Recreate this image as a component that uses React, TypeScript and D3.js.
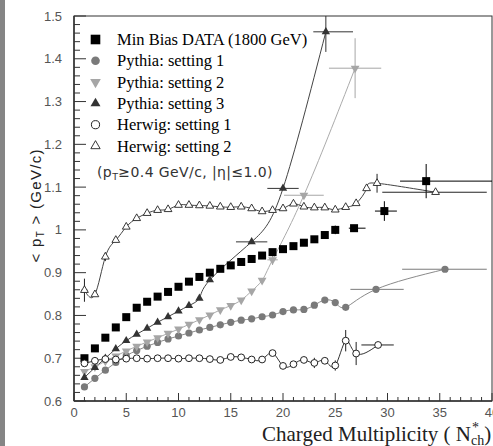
import React from 'react';
import * as d3 from 'd3';

// ---------- data ----------
const mbX = [1,2,3,4,5,6,7,8,9,10,11,12,13,14,15,16,17,18,19,20,21,22,23,24,25,26.8,29.7,33.7];
const mbY = [0.700,0.723,0.748,0.772,0.796,0.818,0.832,0.844,0.855,0.867,0.879,0.890,0.900,0.909,0.917,0.925,0.932,0.940,0.948,0.955,0.962,0.970,0.978,0.988,1.000,1.004,1.044,1.114];
// [x, y, dxMinus, dxPlus, dy]
const mbErr: number[][] = [[25,1.000,0,0,0.01],[26.8,1.004,0.5,1.1,0],[29.7,1.044,0.9,1.2,0.023],[33.7,1.114,2.5,6.3,0.04]];

const p1X = [1,2,3,4,5,6,7,8,9,10,11,12,13,14,15,16,17,18,19,20,21,22,23,24,25,26,28.9,35.5];
const p1Y = [0.633,0.653,0.672,0.690,0.706,0.718,0.728,0.737,0.745,0.752,0.759,0.766,0.772,0.778,0.784,0.789,0.792,0.797,0.801,0.809,0.813,0.814,0.824,0.836,0.830,0.819,0.861,0.908];
const p1Err: number[][] = [[28.9,0.861,2.45,2.65,0],[35.5,0.908,4.1,4.0,0]];

const p2X = [1,2,3,4,5,6,7,8,9,10,11,12,13,14,15,16,17,18,19,22,26.9];
const p2Y = [0.669,0.680,0.693,0.705,0.717,0.728,0.738,0.748,0.758,0.768,0.779,0.790,0.801,0.813,0.823,0.836,0.857,0.882,0.930,1.081,1.378];
const p2Err: number[][] = [[19,0.930,0.5,0.5,0.012],[22,1.081,1.9,1.9,0],[26.9,1.378,2.5,2.5,0.07]];

const p3X = [1,2,3,4,5,6,7,8,9,10,11,12,13,17,20,24.1];
const p3Y = [0.655,0.678,0.700,0.722,0.741,0.756,0.770,0.784,0.797,0.810,0.823,0.840,0.883,0.972,1.097,1.463];
const p3Err: number[][] = [[17,0.972,1.5,1.5,0],[20,1.097,1.5,1.5,0],[24.1,1.463,1.2,2.6,0.047]];

const h1X = [1,2,3,4,5,6,7,8,9,10,11,12,13,14,15,16,17,18,19,20,21,22,23,24,25,26,27,29.1];
const h1Y = [0.688,0.694,0.698,0.697,0.699,0.700,0.699,0.700,0.700,0.699,0.700,0.700,0.698,0.696,0.703,0.702,0.697,0.697,0.712,0.682,0.686,0.696,0.689,0.694,0.683,0.741,0.711,0.731];
const h1Err: number[][] = [[23,0.689,0,0,0.012],[25,0.683,0,0,0.012],[26,0.741,0,0,0.025],[27,0.711,0,0,0.027],[29.1,0.731,1.6,1.5,0]];

const h2X = [1,2,3,4,5,6,7,8,9,10,11,12,13,14,15,16,17,18,19,20,21,22,23,24,25,26,27,28,29,34.6];
const h2Y = [0.859,0.849,0.937,0.976,1.007,1.027,1.039,1.046,1.048,1.058,1.058,1.057,1.056,1.054,1.053,1.054,1.050,1.043,1.046,1.050,1.061,1.054,1.052,1.052,1.047,1.053,1.062,1.097,1.109,1.088];
const h2Err: number[][] = [[1,0.859,0.3,0.3,0.027],[3,0.937,0,0,0.01],[29,1.109,0,0,0.022],[34.6,1.088,5.1,4.9,0]];

const legendLabels = ['Min Bias DATA (1800 GeV)','Pythia: setting 1','Pythia: setting 2','Pythia: setting 3','Herwig: setting 1','Herwig: setting 2'];
const yTicks = [0.6,0.7,0.8,0.9,1.0,1.1,1.2,1.3,1.4,1.5];
const yTickLabels = ['0.6','0.7','0.8','0.9','1','1.1','1.2','1.3','1.4','1.5'];
const xTicks = [0,5,10,15,20,25,30,35,40];

// ---------- layout ----------
const W = 493, H = 446;
const x = d3.scaleLinear().domain([0, 40]).range([74, 492]);
const y = d3.scaleLinear().domain([0.6, 1.5]).range([401, 16]);

type Marker = 'square' | 'circle' | 'tdown' | 'tup' | 'ocircle' | 'otri';
interface S { xs: number[]; ys: number[]; err: number[][]; marker: Marker; color: string; line: string | null; }

const series: S[] = [
  { xs: mbX, ys: mbY, err: mbErr, marker: 'square', color: '#000', line: null },
  { xs: p1X, ys: p1Y, err: p1Err, marker: 'circle', color: '#7a7a7a', line: '#8a8a8a' },
  { xs: p2X, ys: p2Y, err: p2Err, marker: 'tdown', color: '#a6a6a6', line: '#ababab' },
  { xs: p3X, ys: p3Y, err: p3Err, marker: 'tup', color: '#333', line: '#444' },
  { xs: h1X, ys: h1Y, err: h1Err, marker: 'ocircle', color: '#222', line: '#333' },
  { xs: h2X, ys: h2Y, err: h2Err, marker: 'otri', color: '#222', line: '#444' },
];

const tri = (s: number) => d3.symbol().type(d3.symbolTriangle).size(s)() as string;

function MarkerShape({ m, cx, cy, color, big }: { m: Marker; cx: number; cy: number; color: string; big?: boolean }) {
  const k = big ? 1.2 : 1;
  switch (m) {
    case 'square': { const s = 8 * k; return <rect x={cx - s / 2} y={cy - s / 2} width={s} height={s} fill={color} />; }
    case 'circle': return <circle cx={cx} cy={cy} r={3.6 * k} fill={color} />;
    case 'ocircle': return <circle cx={cx} cy={cy} r={3.4 * k} fill="#fff" stroke={color} strokeWidth={1} />;
    case 'tup': return <path d={tri(30 * k * k)} transform={`translate(${cx},${cy})`} fill={color} />;
    case 'tdown': return <path d={tri(34 * k * k)} transform={`translate(${cx},${cy}) rotate(180)`} fill={color} />;
    case 'otri': return <path d={tri(26 * k * k)} transform={`translate(${cx},${cy})`} fill="#fff" stroke={color} strokeWidth={0.9} />;
  }
}

export default function App() {
  const line = d3.line<number>().curve(d3.curveNatural);
  const yMinor = d3.range(60, 151, 2).map(v => v / 100).filter(v => !yTicks.some(t => Math.abs(t - v) < 1e-6));
  const xMinor = d3.range(0, 41).filter(v => v % 5 !== 0);
  return (
    <svg width={W} height={H} style={{ position: 'absolute', left: 0, top: 0, background: '#fff' }} fontFamily="'Liberation Serif', serif">
      <defs>
        <clipPath id="plot"><rect x={74} y={16} width={418} height={385} /></clipPath>
      </defs>
      <rect x={0} y={0} width={W} height={H} fill="#fff" />
      <rect x={0} y={0} width={5} height={H} fill="#858585" />

      {/* frame */}
      <rect x={74} y={16} width={418} height={385} fill="none" stroke="#333" strokeWidth={1} />
      <line x1={74} x2={74} y1={16} y2={401} stroke="#333" strokeWidth={1.5} />
      <line x1={74} x2={492} y1={401} y2={401} stroke="#333" strokeWidth={1.5} />

      {/* y ticks */}
      {yTicks.map(t => <line key={'yt' + t} x1={74} x2={86} y1={y(t)} y2={y(t)} stroke="#333" />)}
      {yMinor.map(t => <line key={'ym' + t} x1={74} x2={80} y1={y(t)} y2={y(t)} stroke="#333" />)}
      {yTicks.map((t, i) => (
        <text key={'yl' + t} x={62} y={y(t) + 4.5} textAnchor="end" fontFamily="'Liberation Sans', Arial, sans-serif" fontSize={13} fill="#555">{yTickLabels[i]}</text>
      ))}
      {/* x ticks */}
      {xTicks.map(t => <line key={'xt' + t} x1={x(t)} x2={x(t)} y1={401} y2={393} stroke="#333" />)}
      {xMinor.map(t => <line key={'xm' + t} x1={x(t)} x2={x(t)} y1={401} y2={397} stroke="#333" />)}
      {xTicks.map(t => (
        <text key={'xl' + t} x={x(t)} y={417} textAnchor="middle" fontFamily="'Liberation Sans', Arial, sans-serif" fontSize={13} fill="#555">{t}</text>
      ))}

      {/* axis titles */}
      <text transform="translate(41,206) rotate(-90)" textAnchor="middle" fontFamily="'Liberation Sans', Arial, sans-serif" fontSize={15} fill="#222"
        textLength={113} lengthAdjust="spacing">
        {'< p'}<tspan fontSize={10} dy={3}>T</tspan><tspan dy={-3}>{' > (GeV/c)'}</tspan>
      </text>
      <text x={262} y={441} fontSize={21} fill="#222">
        Charged Multiplicity ( N<tspan fontSize={14} dx={1} dy={-9}>*</tspan><tspan fontSize={14} dx={-8} dy={13}>ch</tspan><tspan dy={-4}>)</tspan>
      </text>

      {/* data */}
      <g clipPath="url(#plot)">
        {series.map((s, i) => s.line ? (
          <path key={'l' + i} d={line(s.xs.map((v, j) => [x(v), y(s.ys[j])] as [number, number]) as any) as string}
            fill="none" stroke={s.line} strokeWidth={1} />
        ) : null)}
        {series.map((s, i) => s.err.map((e, j) => (
          <g key={'e' + i + '_' + j} stroke={s.color} strokeWidth={1}>
            {(e[2] > 0 || e[3] > 0) && <line x1={x(e[0] - e[2])} x2={x(e[0] + e[3])} y1={y(e[1])} y2={y(e[1])} />}
            {e[4] > 0 && <line x1={x(e[0])} x2={x(e[0])} y1={y(e[1] - e[4])} y2={y(e[1] + e[4])} />}
          </g>
        )))}
        {series.map((s, i) => s.xs.map((v, j) => (
          <MarkerShape key={'m' + i + '_' + j} m={s.marker} cx={x(v)} cy={y(s.ys[j])} color={s.color} />
        )))}
      </g>

      {/* legend */}
      {legendLabels.map((lab, i) => {
        const cy = 39.5 + i * 21.3;
        return (
          <g key={'lg' + i}>
            <MarkerShape m={series[i].marker} cx={95.5} cy={cy} color={series[i].color} big />
            <text x={117} y={cy + 5.5} fontSize={16.5} fill="#000">{lab}</text>
          </g>
        );
      })}
      <text x={97} y={177} fontFamily="'DejaVu Sans', Verdana, sans-serif" fontSize={14} letterSpacing={0.4} fill="#333">
        (p<tspan fontSize={9.5} dy={3}>T</tspan><tspan dy={-3}>≥0.4 GeV/c, |η|≤1.0)</tspan>
      </text>
    </svg>
  );
}
